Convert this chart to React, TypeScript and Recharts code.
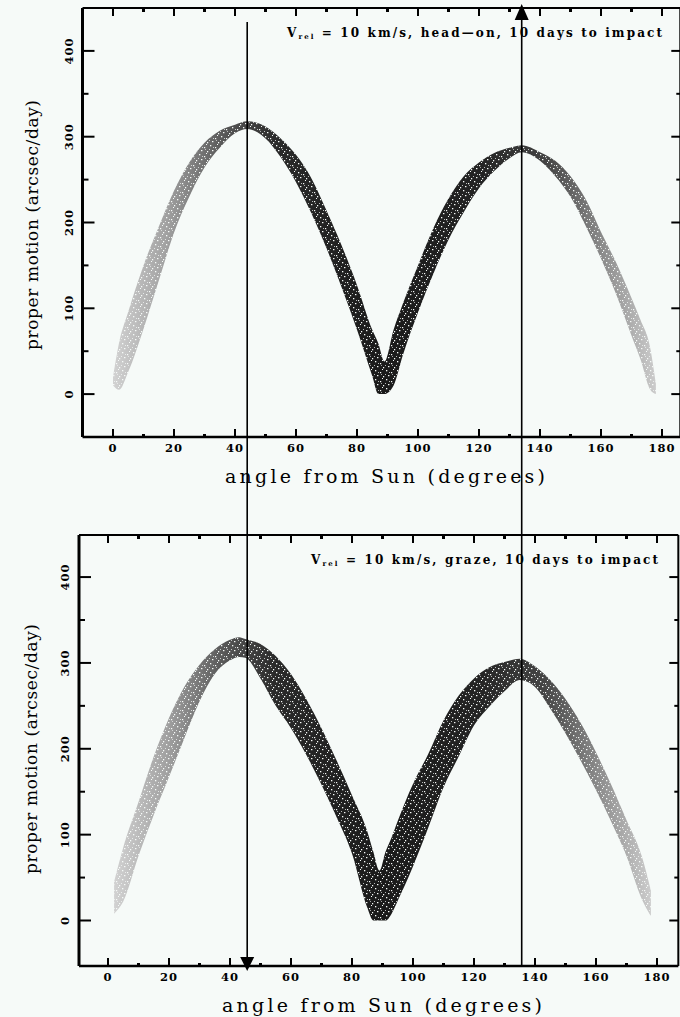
import { ComposedChart, Area, XAxis, YAxis } from "recharts";

// angle from Sun (deg) and the low / high edge of the point cloud (arcsec/day)
const topAngles = [0, 2, 5, 10, 15, 20, 25, 30, 35, 40, 44, 50, 55, 60, 65, 70, 75, 80, 85, 87, 89, 92, 95, 100, 105, 110, 115, 120, 125, 130, 134, 140, 145, 150, 155, 160, 165, 170, 173, 176, 178];
const topLow = [10, 5, 26, 76, 132, 188, 230, 264, 287, 304, 309, 298, 276, 247, 211, 170, 124, 75, 21, 0, 0, 10, 45, 95, 140, 180, 212, 240, 260, 275, 282, 272, 254, 230, 196, 158, 116, 68, 40, 6, 0];
const topHigh = [20, 60, 96, 150, 195, 237, 270, 293, 307, 314, 318, 312, 298, 279, 252, 214, 173, 127, 75, 59, 38, 75, 105, 150, 193, 228, 254, 270, 281, 287, 290, 282, 272, 254, 227, 189, 153, 112, 86, 56, 12];

const botAngles = [2, 5, 10, 15, 20, 25, 30, 35, 40, 43, 45, 50, 55, 60, 65, 70, 75, 80, 85, 87, 89, 91, 93, 95, 100, 105, 110, 115, 120, 125, 130, 135, 140, 145, 150, 155, 160, 165, 170, 175, 178];
const botLow = [8, 22, 75, 123, 167, 212, 255, 287, 303, 307, 306, 282, 250, 224, 193, 158, 120, 78, 15, 0, 0, 0, 8, 23, 63, 108, 155, 191, 227, 249, 267, 280, 272, 247, 218, 186, 152, 115, 75, 25, 5];
const botHigh = [45, 85, 138, 191, 236, 272, 298, 316, 327, 330, 328, 322, 308, 287, 258, 224, 186, 146, 104, 80, 58, 80, 97, 116, 159, 194, 233, 262, 282, 295, 301, 305, 296, 280, 258, 230, 196, 158, 117, 75, 35];

const xTicks = [0, 10, 20, 30, 40, 50, 60, 70, 80, 90, 100, 110, 120, 130, 140, 150, 160, 170, 180];
const yTicks = [0, 50, 100, 150, 200, 250, 300, 350, 400];
const arrowAngles = [44, 134];

const topLabel = ["head\u2014on"];
const botLabel = ["graze"];

const topData = topAngles.map((a, i) => ({ angle: a, band: [topLow[i], topHigh[i]] }));
const botData = botAngles.map((a, i) => ({ angle: a, band: [botLow[i], botHigh[i]] }));

const SVG_W = 700;
const Y_W = 40;
const X_H = 30;
const EDGE = 8;
const PX_PER_DEG = 3.05;
const SERIF = "'DejaVu Serif', 'Liberation Serif', serif";

const topPanel = { id: "t", top: 0, height: 500, plotLeft: 82.5, plotTop: 8, plotBottom: 437, xDomain: [-10, 186], yDomain: [-50, 450] };
const botPanel = { id: "b", top: 500, height: 517, plotLeft: 79, plotTop: 35, plotBottom: 466, xDomain: [-9.5, 187], yDomain: [-53, 449] };

const tickFont = { fontFamily: SERIF, fontSize: 11.5, fontWeight: 700, letterSpacing: 1, fill: "#000" };

function BottomTick({ x, y, payload }: any) {
  const v = payload.value;
  const major = v % 20 === 0;
  return (
    <g>
      <line x1={x} y1={y} x2={x} y2={y - (major ? 8 : 3)} stroke="#000" strokeWidth={major ? 2 : 3} />
      {major && (
        <text x={x} y={y + 15} textAnchor="middle" {...tickFont}>{v}</text>
      )}
    </g>
  );
}

function TopTick({ x, y, payload }: any) {
  const major = payload.value % 20 === 0;
  return <line x1={x} y1={y} x2={x} y2={y + (major ? 8 : 4)} stroke="#000" strokeWidth={major ? 2 : 3} />;
}

function LeftTick({ x, y, payload }: any) {
  const v = payload.value;
  const major = v % 100 === 0;
  const lx = Number(x) - 10;
  const ly = Number(y);
  return (
    <g>
      <line x1={x} y1={y} x2={Number(x) + (major ? 12 : 6)} y2={y} stroke="#000" strokeWidth={2} />
      {major && (
        <g style={{ transform: `translate(${lx}px, ${ly}px) rotate(-90deg)` }}>
          <text x={0} y={0} textAnchor="middle" {...tickFont}>{v}</text>
        </g>
      )}
    </g>
  );
}

function RightTick({ x, y, payload }: any) {
  const major = payload.value % 100 === 0;
  return <line x1={x} y1={y} x2={x - (major ? 9 : 4)} y2={y} stroke="#000" strokeWidth={2} />;
}

function Panel({ p, data }: { p: typeof topPanel; data: { angle: number; band: number[] }[] }) {
  const plotRight = p.plotLeft + (p.xDomain[1] - p.xDomain[0]) * PX_PER_DEG;
  const margin = {
    left: p.plotLeft - Y_W,
    top: p.plotTop - EDGE,
    bottom: p.height - p.plotBottom - X_H,
    right: SVG_W - plotRight - EDGE,
  };
  const grad = `grad-${p.id}`;
  const speck = `speck-${p.id}`;
  return (
    <div style={{ position: "absolute", left: 0, top: p.top }}>
      <ComposedChart width={SVG_W} height={p.height} data={data} margin={margin}>
        <defs>
          <linearGradient id={grad} x1="0" y1="0" x2="1" y2="0">
            <stop offset="0" stopColor="#d2d2d2" />
            <stop offset="0.1" stopColor="#a0a0a0" />
            <stop offset="0.2" stopColor="#5a5a5a" />
            <stop offset="0.3" stopColor="#2a2a2a" />
            <stop offset="0.5" stopColor="#1a1a1a" />
            <stop offset="0.68" stopColor="#242424" />
            <stop offset="0.8" stopColor="#444" />
            <stop offset="0.9" stopColor="#8a8a8a" />
            <stop offset="1" stopColor="#cccccc" />
          </linearGradient>
          <pattern id={speck} width="11" height="9" patternUnits="userSpaceOnUse">
            <rect x="1" y="1" width="1.3" height="1.3" fill="#f6faf8" />
            <rect x="6" y="3" width="1.2" height="1.2" fill="#f6faf8" />
            <rect x="3" y="6" width="1.4" height="1.2" fill="#f6faf8" />
            <rect x="9" y="7" width="1.2" height="1.3" fill="#f6faf8" />
            <rect x="8" y="0" width="1" height="1" fill="#f6faf8" />
            <rect x="4" y="3" width="1" height="1" fill="#f6faf8" opacity="0.7" />
            <rect x="0" y="5" width="1" height="1" fill="#f6faf8" opacity="0.7" />
            <rect x="7" y="5" width="1" height="1" fill="#f6faf8" opacity="0.6" />
          </pattern>
        </defs>
        <XAxis
          type="number"
          dataKey="angle"
          domain={p.xDomain}
          allowDataOverflow
          ticks={xTicks}
          interval={0}
          height={X_H}
          tickSize={0}
          tickMargin={0}
          tickLine={false}
          tick={(t: any) => <BottomTick {...t} />}
          axisLine={{ stroke: "#000", strokeWidth: 2.5 }}
        />
        <XAxis
          xAxisId="top"
          orientation="top"
          type="number"
          dataKey="angle"
          domain={p.xDomain}
          allowDataOverflow
          ticks={xTicks}
          interval={0}
          height={EDGE}
          tickSize={0}
          tickMargin={0}
          tickLine={false}
          tick={(t: any) => <TopTick {...t} />}
          axisLine={{ stroke: "#000", strokeWidth: 2 }}
        />
        <YAxis
          type="number"
          domain={p.yDomain}
          allowDataOverflow
          ticks={yTicks}
          interval={0}
          width={Y_W}
          tickSize={0}
          tickMargin={0}
          tickLine={false}
          tick={(t: any) => <LeftTick {...t} />}
          axisLine={{ stroke: "#000", strokeWidth: 3 }}
        />
        <YAxis
          yAxisId="right"
          orientation="right"
          type="number"
          domain={p.yDomain}
          allowDataOverflow
          ticks={yTicks}
          interval={0}
          width={EDGE}
          tickSize={0}
          tickMargin={0}
          tickLine={false}
          tick={(t: any) => <RightTick {...t} />}
          axisLine={{ stroke: "#000", strokeWidth: 2 }}
        />
        <Area
          type="monotone"
          dataKey="band"
          stroke="none"
          fill={`url(#${grad})`}
          fillOpacity={1}
          dot={false}
          activeDot={false}
          isAnimationActive={false}
        />
        <Area
          type="monotone"
          dataKey="band"
          stroke="none"
          fill={`url(#${speck})`}
          fillOpacity={1}
          dot={false}
          activeDot={false}
          isAnimationActive={false}
        />
      </ComposedChart>
    </div>
  );
}

function Caption({ x, y, len, kind }: { x: number; y: number; len: number; kind: string }) {
  return (
    <text x={x} y={y} textLength={len} lengthAdjust="spacing" fontFamily={SERIF} fontSize={12} fontWeight={700} fill="#000">
      V<tspan fontSize={7} dy={2}>rel</tspan>
      <tspan dy={-2}>{` = 10 km/s, ${kind}, 10 days to impact`}</tspan>
    </text>
  );
}

function AxisTitles({ xLeft, xBase, yCx, yCy }: { xLeft: number; xBase: number; yCx: number; yCy: number }) {
  return (
    <g fontFamily={SERIF} fill="#000">
      <text x={xLeft} y={xBase} fontSize={19} textLength={320} lengthAdjust="spacing">angle from Sun (degrees)</text>
      <g transform={`translate(${yCx} ${yCy}) rotate(-90)`}>
        <text x={0} y={0} fontSize={17} textAnchor="middle" textLength={250} lengthAdjust="spacing">
          proper motion (arcsec/day)
        </text>
      </g>
    </g>
  );
}

export default function App() {
  const toPx = (deg: number) => topPanel.plotLeft + (deg - topPanel.xDomain[0]) * PX_PER_DEG;
  const [a1, a2] = arrowAngles.map(toPx);
  return (
    <div style={{ position: "absolute", left: 0, top: 0, width: 680, height: 1017, overflow: "hidden", background: "#f6faf8" }}>
      <Panel p={topPanel} data={topData} />
      <Panel p={botPanel} data={botData} />
      <svg width={680} height={1017} style={{ position: "absolute", left: 0, top: 0, pointerEvents: "none" }}>
        <AxisTitles xLeft={225} xBase={483} yCx={38} yCy={225} />
        <AxisTitles xLeft={222} xBase={1012} yCx={37} yCy={749} />
        <Caption x={287} y={37} len={375} kind={topLabel[0]} />
        <Caption x={311} y={564} len={347} kind={botLabel[0]} />
        <line x1={a1} y1={22} x2={a1} y2={960} stroke="#000" strokeWidth={1.6} />
        <polygon points={`${a1 - 7},957 ${a1 + 7},957 ${a1},971`} fill="#000" />
        <line x1={a2} y1={966} x2={a2} y2={15} stroke="#000" strokeWidth={1.6} />
        <polygon points={`${a2 - 7},20 ${a2 + 7},20 ${a2},4`} fill="#000" />
      </svg>
    </div>
  );
}
